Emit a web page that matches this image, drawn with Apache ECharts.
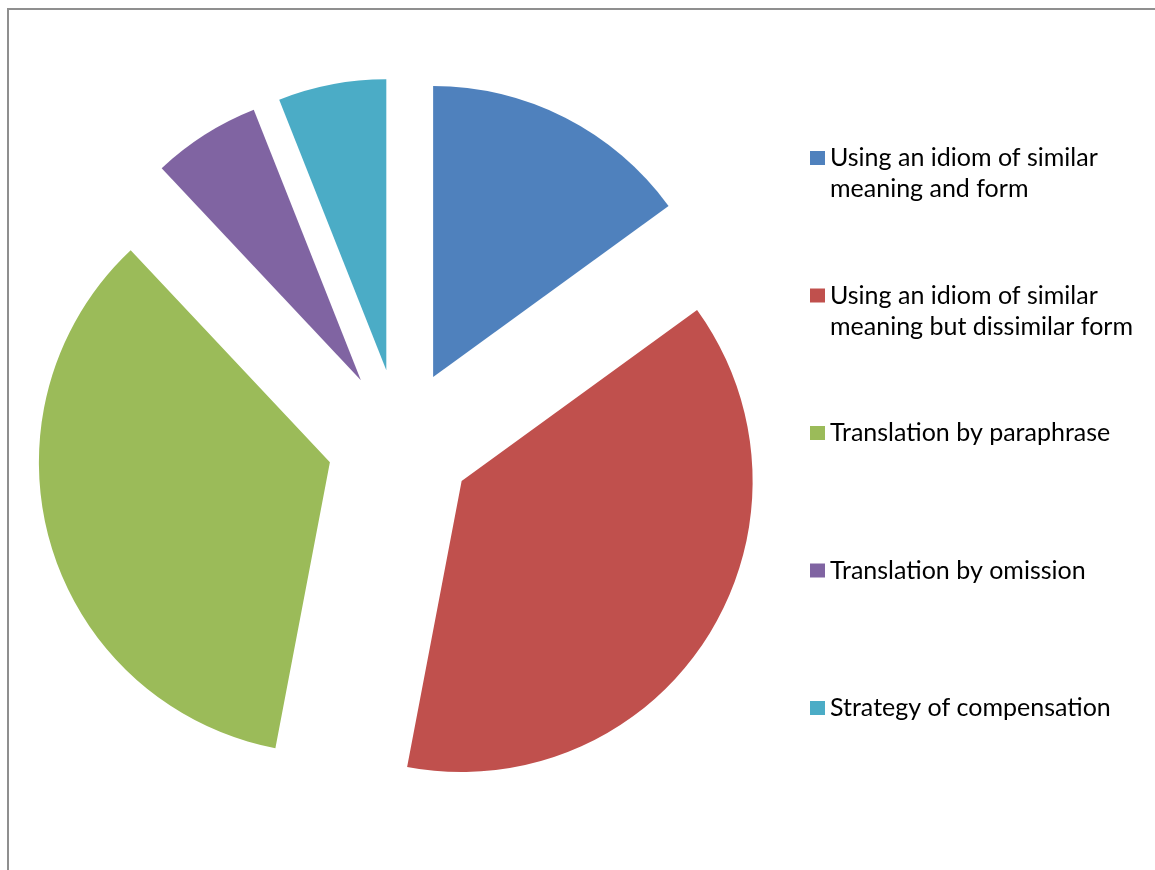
<!DOCTYPE html>
<html>
<head>
<meta charset="utf-8">
<script src="https://cdn.jsdelivr.net/npm/echarts@6/dist/echarts.min.js"></script>
<style>
  html, body { margin: 0; padding: 0; background: #ffffff; }
  #wrap { position: relative; width: 1155px; height: 870px; overflow: hidden; }
  #chart { position: absolute; left: 0; top: 0; width: 1155px; height: 870px; }
  #frame { position: absolute; left: 7px; top: 8px; width: 1160px; height: 880px;
           border-top: 2px solid #8f8f8f; border-left: 2px solid #8f8f8f; pointer-events: none; }
</style>
</head>
<body>
<div id="wrap">
  <div id="chart"></div>
  <div id="frame"></div>
</div>
<script>
const categories = [
  'Using an idiom of similar meaning and form',
  'Using an idiom of similar meaning but dissimilar form',
  'Translation by paraphrase',
  'Translation by omission',
  'Strategy of compensation'
];
const legendLines = [
  ['Using an idiom of similar', 'meaning and form'],
  ['Using an idiom of similar', 'meaning but dissimilar form'],
  ['Translation by paraphrase'],
  ['Translation by omission'],
  ['Strategy of compensation']
];
const values = [15, 38, 35, 6, 6];
const colors = ['#4F81BD', '#C0504D', '#9BBB59', '#8064A2', '#4BACC6'];

const chart = echarts.init(document.getElementById('chart'), null, { renderer: 'canvas' });

const data = categories.map((name, i) => ({
  name: name,
  value: values[i],
  selected: true,
  itemStyle: { color: colors[i] }
}));

function legendFormatter(name) {
  const idx = categories.indexOf(name);
  const lines = legendLines[idx];
  if (lines.length === 1) return ' \n' + lines[0] + '\n ';
  return ' \n' + lines[0] + '\n' + lines[1];
}

chart.setOption({
  backgroundColor: '#ffffff',
  animation: false,
  legend: {
    orient: 'vertical',
    left: 810,
    top: 111.5,
    padding: 0,
    itemGap: 44.5,
    itemWidth: 15,
    itemHeight: 14,
    icon: 'rect',
    selectedMode: false,
    data: categories,
    formatter: legendFormatter,
    textStyle: {
      fontFamily: 'Lato',
      fontSize: 25,
      lineHeight: 31,
      color: '#000000'
    }
  },
  series: [{
    type: 'pie',
    center: [400, 442],
    radius: 291,
    startAngle: 90,
    clockwise: true,
    selectedMode: 'multiple',
    selectedOffset: 73,
    avoidLabelOverlap: false,
    label: { show: false },
    labelLine: { show: false },
    emphasis: { scale: false },
    select: { itemStyle: { borderWidth: 0 } },
    itemStyle: { borderWidth: 0 },
    data: data
  }]
});
</script>
</body>
</html>
